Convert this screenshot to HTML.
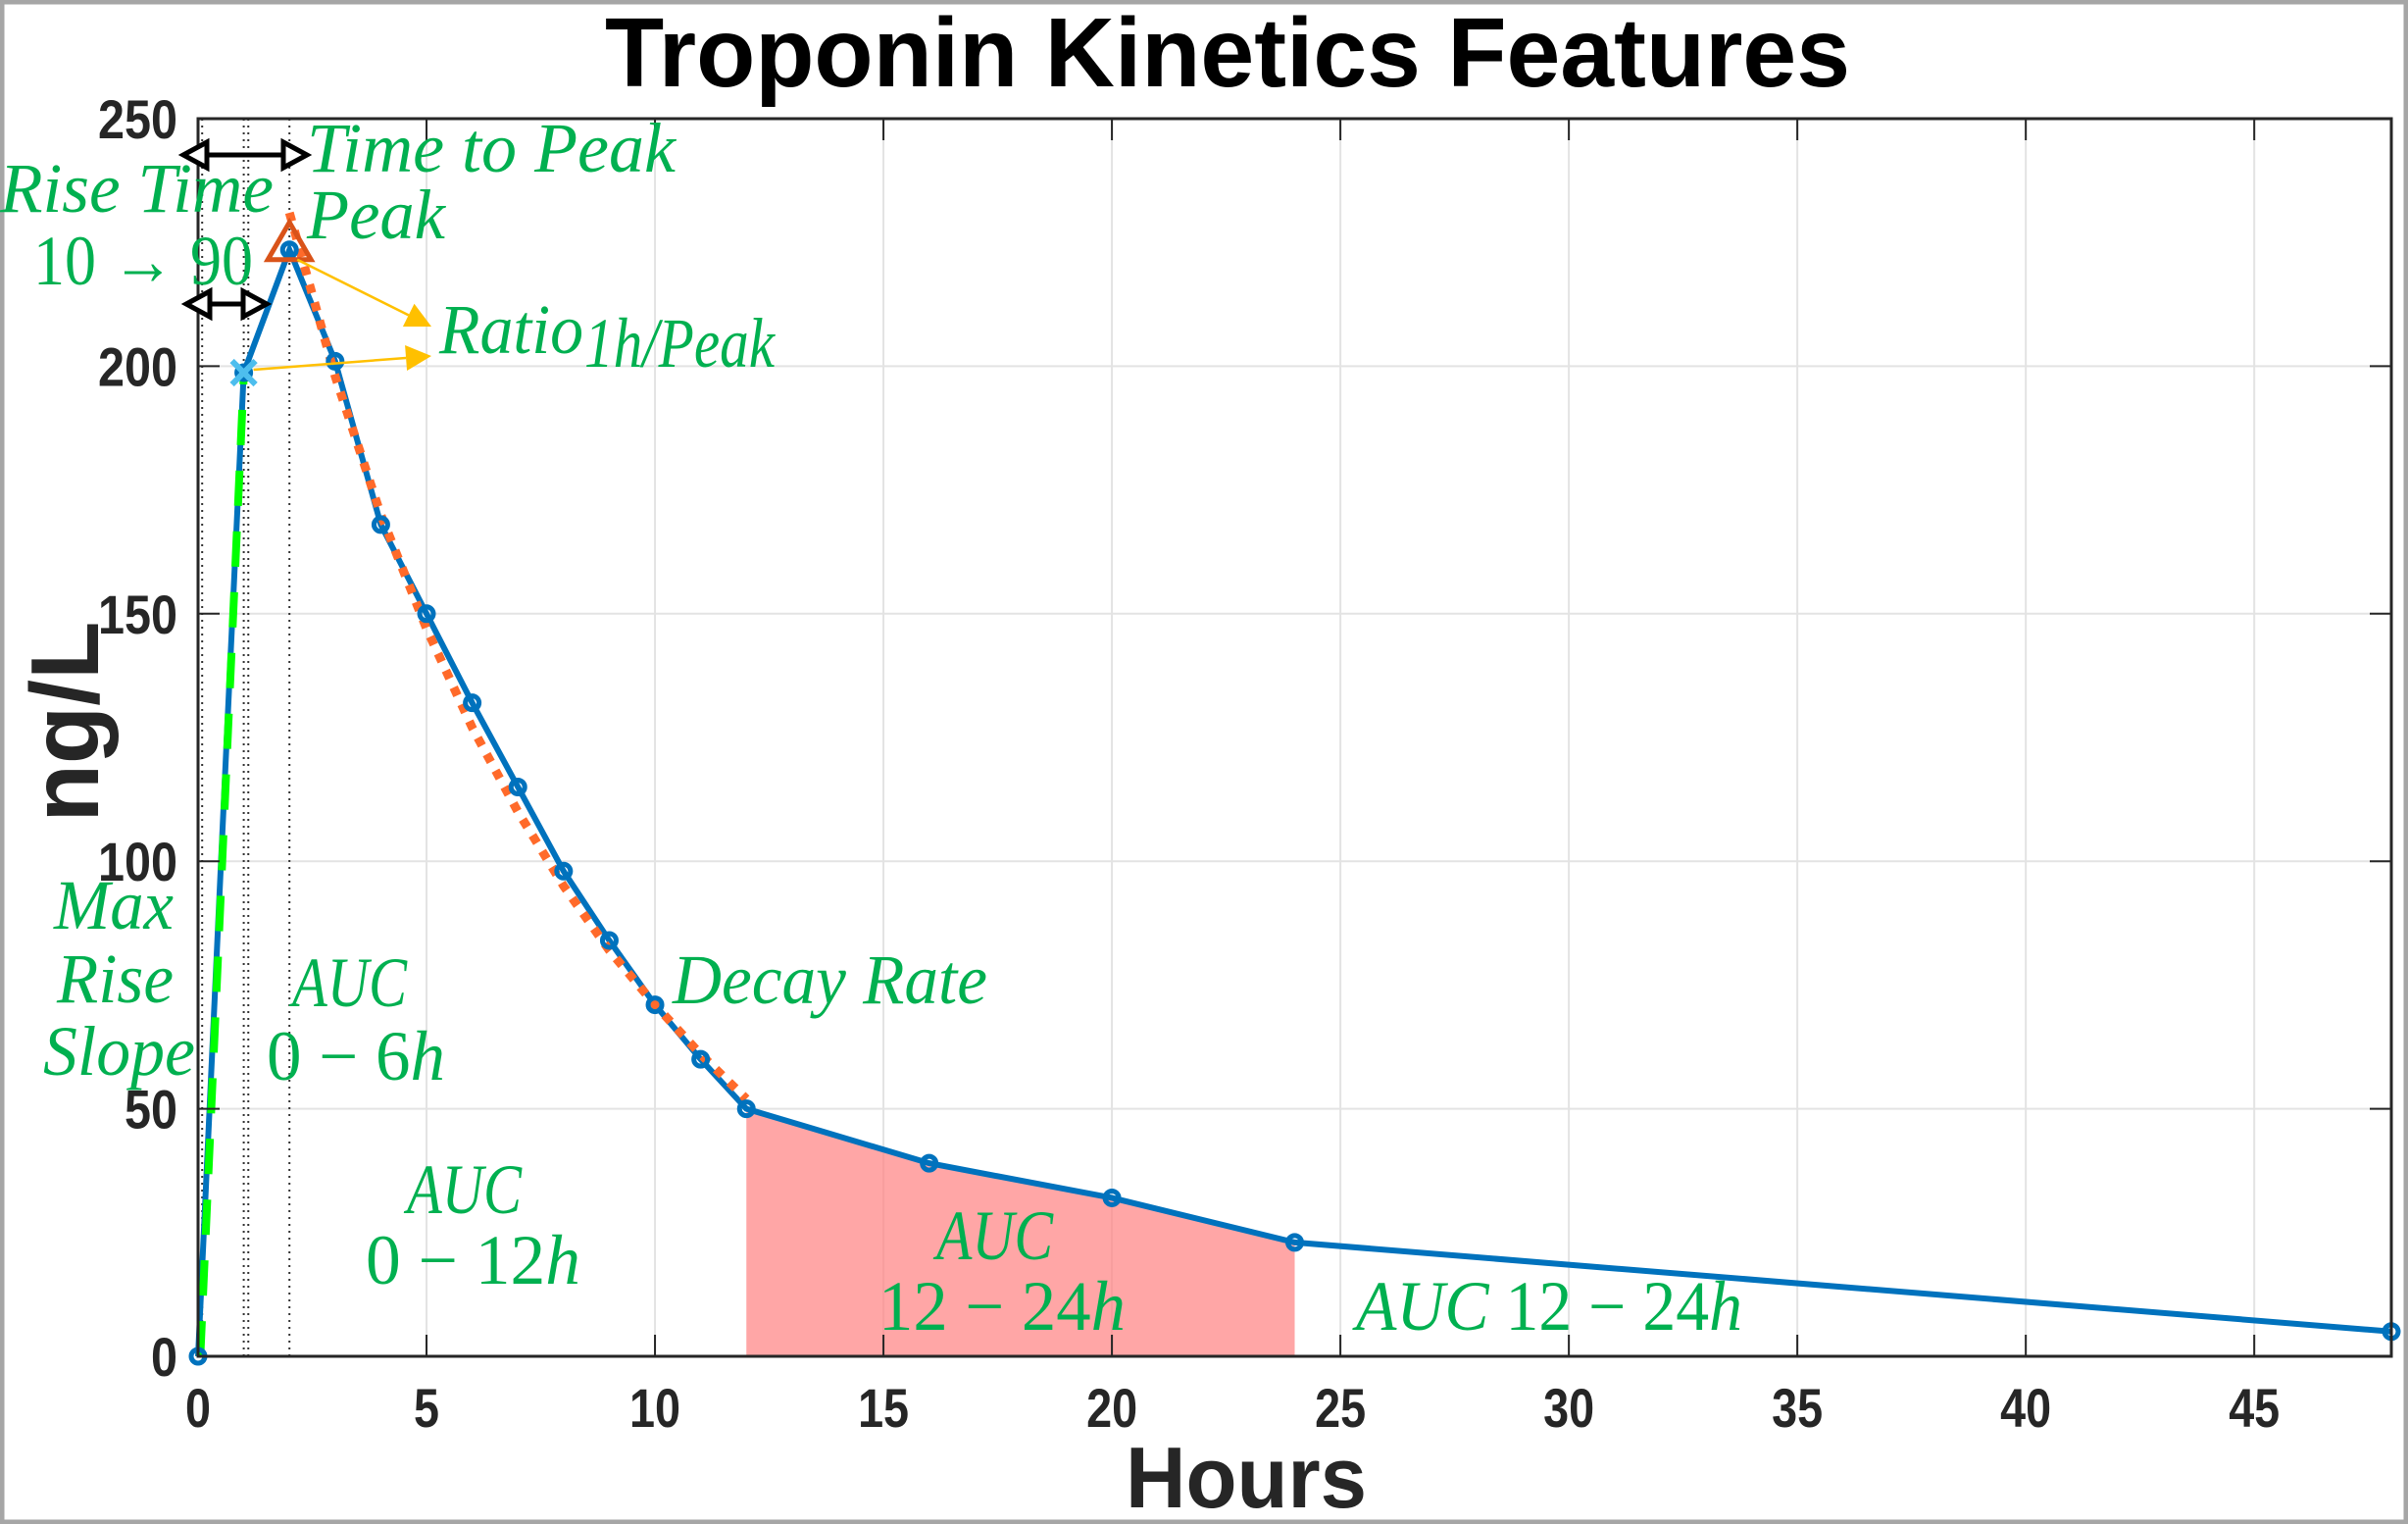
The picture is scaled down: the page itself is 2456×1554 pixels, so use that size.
<!DOCTYPE html>
<html><head><meta charset="utf-8"><style>
html,body{margin:0;padding:0;background:#fff;}
svg{display:block;}
.g{font-family:"Liberation Serif",serif;font-style:italic;fill:#00b050;font-size:72px;}
.u{font-style:normal;}
.tk{font-family:"Liberation Sans",sans-serif;font-weight:bold;fill:#262626;font-size:56px;}
</style></head><body>
<svg id="chart" width="2456" height="1554" viewBox="0 0 2456 1554" xmlns="http://www.w3.org/2000/svg">
<rect x="2" y="2" width="2452" height="1550" fill="#fff" stroke="#a6a6a6" stroke-width="5"/>
<text x="1252" y="88" text-anchor="middle" font-family="Liberation Sans,sans-serif" font-weight="bold" font-size="100" textLength="1270" lengthAdjust="spacingAndGlyphs">Troponin Kinetics Features</text>
<g id="grid"></g>
<g id="shade"></g>
<g id="vlines"></g>
<g id="series"></g>
<g id="axes"></g>
<g id="annot"></g>
<text transform="translate(100,736) rotate(-90)" text-anchor="middle" font-family="Liberation Sans,sans-serif" font-weight="bold" font-size="98" fill="#262626" textLength="205" lengthAdjust="spacingAndGlyphs">ng/L</text>
<text x="1271" y="1537" text-anchor="middle" font-family="Liberation Sans,sans-serif" font-weight="bold" font-size="88" fill="#262626" textLength="246" lengthAdjust="spacingAndGlyphs">Hours</text>
<g>
<text class="g" x="313" y="175" textLength="376" lengthAdjust="spacingAndGlyphs">Time to Peak</text>
<text class="g" x="313" y="243" textLength="141" lengthAdjust="spacingAndGlyphs">Peak</text>
<text class="g" x="0" y="216" textLength="279" lengthAdjust="spacingAndGlyphs">Rise Time</text>
<text class="g u" x="34" y="290" textLength="224" lengthAdjust="spacingAndGlyphs">10 → 90</text>
<text class="g" x="448" y="360" textLength="147" lengthAdjust="spacingAndGlyphs">Ratio</text>
<text class="g" x="596" y="374" font-size="54" textLength="194" lengthAdjust="spacingAndGlyphs">1h/Peak</text>
<text class="g" x="55" y="947" textLength="122" lengthAdjust="spacingAndGlyphs">Max</text>
<text class="g" x="58" y="1022" textLength="119" lengthAdjust="spacingAndGlyphs">Rise</text>
<text class="g" x="44" y="1096" textLength="155" lengthAdjust="spacingAndGlyphs">Slope</text>
<text class="g" x="298" y="1026" textLength="117" lengthAdjust="spacingAndGlyphs">AUC</text>
<text class="g u" x="272" y="1101" textLength="182" lengthAdjust="spacingAndGlyphs">0 − 6<tspan font-style="italic">h</tspan></text>
<text class="g" x="415" y="1237" textLength="117" lengthAdjust="spacingAndGlyphs">AUC</text>
<text class="g u" x="373" y="1309" textLength="219" lengthAdjust="spacingAndGlyphs">0 − 12<tspan font-style="italic">h</tspan></text>
<text class="g" x="955" y="1284" textLength="119" lengthAdjust="spacingAndGlyphs">AUC</text>
<text class="g u" x="896" y="1356" textLength="252" lengthAdjust="spacingAndGlyphs">12 − 24<tspan font-style="italic">h</tspan></text>
<text class="g" x="1383" y="1356" textLength="394" lengthAdjust="spacingAndGlyphs">AUC <tspan font-style="normal">12 − 24</tspan>h</text>
<text class="g" x="686" y="1023" textLength="321" lengthAdjust="spacingAndGlyphs">Decay Rate</text>
</g>
</svg>
<script>
const hours = [0,1,2,3,4,5,6,7,8,9,10,11,12,16,20,24,48];
const tropValues = [0,198.7,223.5,201,168,150,132,115,98,84,71,60,50,39,32,23,5];
const fitHours = [2,3,4,5,6,7,8,9,10,11,12];
const fitValues = [231,198,170,147,127,110,95,82,71,61,52];
const slopeHours = [0.05,1];
const slopeValues = [0,198];
const markerHours = [0.09,1,1.1,2];
const xTicks = [0,5,10,15,20,25,30,35,40,45];
const yTicks = [0,50,100,150,200,250];
const xTickLabels = ["0","5","10","15","20","25","30","35","40","45"];
const yTickLabels = ["0","50","100","150","200","250"];
const shadeStart = 12, shadeEnd = 24;

const X0=202, X1=2439, Y0=1383, Y1=121, XMAX=48, YMAX=250;
const sx = v => X0 + (X1-X0)*v/XMAX;
const sy = v => Y0 - (Y0-Y1)*v/YMAX;
const NS="http://www.w3.org/2000/svg";
function mk(tag, parent, at){const e=document.createElementNS(NS,tag);for(const k in at)e.setAttribute(k,at[k]);parent.appendChild(e);return e;}
const grid=document.getElementById('grid'), axes=document.getElementById('axes'), series=document.getElementById('series');
const shade=document.getElementById('shade'), vl=document.getElementById('vlines'), annot=document.getElementById('annot');

xTicks.forEach((t,i)=>{
  let g=mk('line',grid,{x1:sx(t),x2:sx(t),y1:Y1,y2:Y0,stroke:'#e3e3e3','stroke-width':2});
  
  
  let tk=mk('line',axes,{x1:sx(t),x2:sx(t),y1:Y0,y2:Y0-22,stroke:'#262626','stroke-width':2});
  
  
  let tk2=mk('line',axes,{x1:sx(t),x2:sx(t),y1:Y1,y2:Y1+22,stroke:'#262626','stroke-width':2});
  
  
  let lb=mk('text',axes,{x:sx(t),y:1455,'text-anchor':'middle',class:'tk',textLength:26*xTickLabels[i].length,lengthAdjust:'spacingAndGlyphs'});
  lb.textContent=xTickLabels[i];
  
  
});
yTicks.forEach((t,i)=>{
  let g=mk('line',grid,{x1:X0,x2:X1,y1:sy(t),y2:sy(t),stroke:'#e3e3e3','stroke-width':2});
  
  
  let tk=mk('line',axes,{x1:X0,x2:X0+22,y1:sy(t),y2:sy(t),stroke:'#262626','stroke-width':2});
  
  
  let tk2=mk('line',axes,{x1:X1,x2:X1-22,y1:sy(t),y2:sy(t),stroke:'#262626','stroke-width':2});
  
  
  let lb=mk('text',axes,{x:181,y:sy(t)+20,'text-anchor':'end',class:'tk',textLength:27*yTickLabels[i].length,lengthAdjust:'spacingAndGlyphs'});
  lb.textContent=yTickLabels[i];
  
  
});
let box=mk('rect',axes,{x:X0,y:Y1,width:X1-X0,height:Y0-Y1,fill:'none',stroke:'#262626','stroke-width':3});



let pts=[[sx(shadeStart),sy(0)]];
hours.forEach((h,i)=>{if(h>=shadeStart&&h<=shadeEnd)pts.push([sx(h),sy(tropValues[i])]);});
pts.push([sx(shadeEnd),sy(0)]);
let poly=mk('polygon',shade,{points:pts.map(p=>p.join(',')).join(' '),fill:'#ff8080','fill-opacity':0.7});



markerHours.forEach(h=>{
  let l=mk('line',vl,{x1:sx(h),x2:sx(h),y1:Y1,y2:Y0,stroke:'#333','stroke-width':2,'stroke-dasharray':'2 5'});
  
  
});

let d=hours.map((h,i)=>(i?'L':'M')+sx(h)+','+sy(tropValues[i])).join(' ');
let ml=mk('path',series,{d:d,fill:'none',stroke:'#0072bd','stroke-width':6});


let sd=slopeHours.map((h,i)=>(i?'L':'M')+sx(h)+','+sy(slopeValues[i])).join(' ');
let sl=mk('path',series,{d:sd,fill:'none',stroke:'#00ff00','stroke-width':8,'stroke-dasharray':'36 26'});


let fd=fitHours.map((h,i)=>(i?'L':'M')+sx(h)+','+sy(fitValues[i])).join(' ');
let fl=mk('path',series,{d:fd,fill:'none',stroke:'#ff6a2a','stroke-width':9,'stroke-dasharray':'9 10'});


hours.forEach((h,i)=>{
  let c=mk('circle',series,{cx:sx(h),cy:sy(tropValues[i]),r:7,fill:'none',stroke:'#0072bd','stroke-width':5});
  
  
});
const pk=tropValues.indexOf(Math.max(...tropValues));
const px=sx(hours[pk]), py=sy(tropValues[pk]);
let tri=mk('polygon',series,{points:`${px},${py-28} ${px-22},${py+10} ${px+22},${py+10}`,fill:'none',stroke:'#d95319','stroke-width':5});


const ox=sx(hours[1]), oy=sy(tropValues[1]);
let xm=mk('path',series,{d:`M${ox-12},${oy-12}L${ox+12},${oy+12}M${ox-12},${oy+12}L${ox+12},${oy-12}`,stroke:'#4dbeee','stroke-width':6});



function dbl(x1,x2,y,name){
  const g=mk('g',annot,{});
  
  
  mk('line',g,{x1:x1+20,x2:x2-20,y1:y,y2:y,stroke:'#000','stroke-width':5});
  mk('polygon',g,{points:`${x1},${y} ${x1+24},${y-13} ${x1+24},${y+13}`,fill:'#fff',stroke:'#000','stroke-width':5});
  mk('polygon',g,{points:`${x2},${y} ${x2-24},${y-13} ${x2-24},${y+13}`,fill:'#fff',stroke:'#000','stroke-width':5});
}
dbl(187,313,158,'time-to-peak-arrow');
dbl(190,272,310,'rise-time-arrow');
function arr(x1,y1,x2,y2,name){
  const g=mk('g',annot,{});
  
  
  const a=Math.atan2(y2-y1,x2-x1), L=26, W=13;
  const bx=x2-L*Math.cos(a), by=y2-L*Math.sin(a);
  mk('line',g,{x1:x1,y1:y1,x2:bx,y2:by,stroke:'#ffc000','stroke-width':2.5});
  mk('polygon',g,{points:`${x2},${y2} ${bx+W*Math.sin(a)},${by-W*Math.cos(a)} ${bx-W*Math.sin(a)},${by+W*Math.cos(a)}`,fill:'#ffc000'});
}
arr(px+8,py+10,440,333,'peak-ratio-arrow');
arr(ox+10,oy-3,440,363,'one-hour-ratio-arrow');
</script>
</body></html>
